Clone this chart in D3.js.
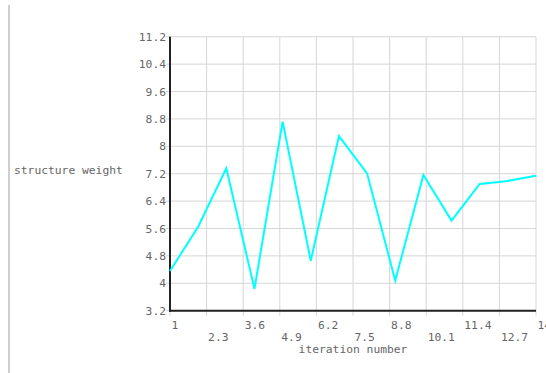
<!DOCTYPE html>
<html>
<head>
<meta charset="utf-8">
<script src="https://cdn.jsdelivr.net/npm/d3@7"></script>
<style>
  html, body { margin: 0; padding: 0; background: #fff; }
  svg { display: block; }
  text { font-family: "DejaVu Sans Mono", "Liberation Mono", monospace; font-size: 11.3px; fill: #666; }
</style>
</head>
<body>
<svg id="chart" width="546" height="373"></svg>
<script>
// Structure weight recorded at each optimisation iteration
const iterations = [1, 2, 3, 4, 5, 6, 7, 8, 9, 10, 11, 12, 13, 14];
const weights = [4.36, 5.65, 7.36, 3.84, 8.72, 4.66, 8.30, 7.21, 4.08, 7.16, 5.83, 6.90, 6.99, 7.14];
const xTicks = [1, 2.3, 3.6, 4.9, 6.2, 7.5, 8.8, 10.1, 11.4, 12.7, 14];
const yTicks = [3.2, 4, 4.8, 5.6, 6.4, 7.2, 8, 8.8, 9.6, 10.4, 11.2];

const svg = d3.select("#chart");
const plotLeft = 170, plotRight = 536, plotTop = 36.7, plotBottom = 310.7;

const x = d3.scaleLinear().domain([1, 14]).range([plotLeft, plotRight]);
const y = d3.scaleLinear().domain([3.2, 11.2]).range([plotBottom, plotTop]);

// page margin rule on the left
svg.append("line")
  .attr("x1", 9).attr("x2", 9).attr("y1", 5).attr("y2", 373)
  .attr("stroke", "#cfcfcf").attr("stroke-width", 2);

// grid
const grid = svg.append("g").attr("stroke", "#d6d6d6").attr("stroke-width", 1);
grid.selectAll(".gx").data(xTicks).join("line")
  .attr("x1", d => x(d)).attr("x2", d => x(d))
  .attr("y1", plotTop).attr("y2", plotBottom + 5);
grid.selectAll(".gy").data(yTicks).join("line")
  .attr("x1", plotLeft - 4).attr("x2", plotRight)
  .attr("y1", d => y(d)).attr("y2", d => y(d));

// y axis labels
const yAxis = d3.axisLeft(y).tickValues(yTicks).tickSize(0).tickPadding(4).tickFormat(d3.format("~g"));
const gy = svg.append("g").attr("transform", `translate(${plotLeft},0)`).call(yAxis);
gy.attr("font-family", null).attr("font-size", null);
gy.select(".domain").remove();
gy.selectAll("text").attr("fill", null);

// x axis labels, staggered over two rows and left aligned at the tick
const xAxis = d3.axisBottom(x).tickValues(xTicks).tickSize(0).tickFormat(d3.format("~g"));
const gx = svg.append("g").attr("transform", `translate(0,${plotBottom})`).call(xAxis);
gx.attr("font-family", null).attr("font-size", null).attr("text-anchor", null);
gx.select(".domain").remove();
gx.selectAll("text")
  .attr("text-anchor", "start")
  .attr("x", 1)
  .attr("dy", null)
  .attr("y", (d, i) => i % 2 === 0 ? 18 : 30)
  .attr("fill", null);

// axis lines
svg.append("line").attr("x1", plotLeft).attr("x2", plotLeft).attr("y1", plotTop).attr("y2", plotBottom + 1)
  .attr("stroke", "#222").attr("stroke-width", 2);
svg.append("line").attr("x1", plotLeft - 1).attr("x2", plotRight).attr("y1", plotBottom).attr("y2", plotBottom)
  .attr("stroke", "#222").attr("stroke-width", 2);

// series line
svg.append("path")
  .datum(iterations.map((it, i) => [it, weights[i]]))
  .attr("fill", "none")
  .attr("stroke", "#00ffff")
  .attr("stroke-width", 2)
  .attr("stroke-linejoin", "miter")
  .attr("d", d3.line().x(d => x(d[0])).y(d => y(d[1])));

// axis titles
svg.append("text").attr("x", 14).attr("y", 174).text("structure weight");
svg.append("text").attr("x", 353).attr("y", 352.5).attr("text-anchor", "middle").text("iteration number");
</script>
</body>
</html>
